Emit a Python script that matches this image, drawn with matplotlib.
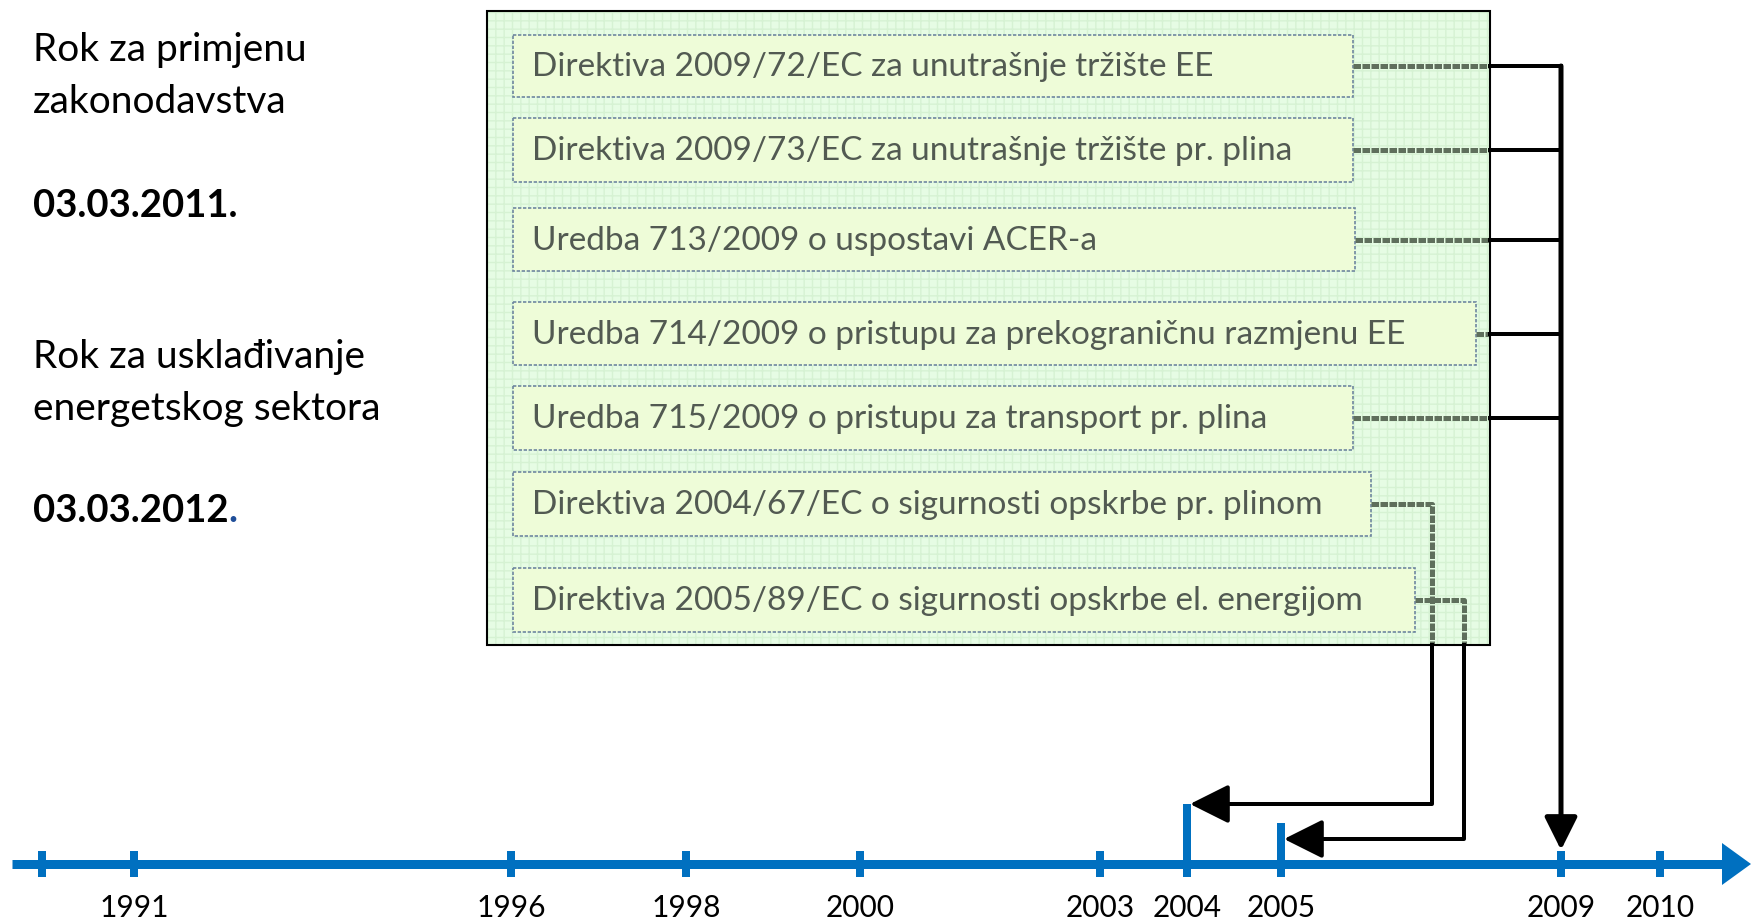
import matplotlib.pyplot as plt
from matplotlib.patches import Rectangle, Polygon

plt.rcParams['font.family'] = ['Lato', 'DejaVu Sans']

# timeline
years = ['', '1991', '1996', '1998', '2000', '2003', '2004', '2005', '2009', '2010']
tick_x = [42, 134, 511, 686, 860, 1100, 1187, 1281, 1561, 1660]
tick_top = [851, 851, 851, 851, 851, 851, 804, 823, 851, 851]

# documents in the green panel
docs = ['Direktiva 2009/72/EC za unutrašnje tržište EE',
        'Direktiva 2009/73/EC za unutrašnje tržište pr. plina',
        'Uredba 713/2009 o uspostavi ACER-a',
        'Uredba 714/2009 o pristupu za prekograničnu razmjenu EE',
        'Uredba 715/2009 o pristupu za transport pr. plina',
        'Direktiva 2004/67/EC o sigurnosti opskrbe pr. plinom',
        'Direktiva 2005/89/EC o sigurnosti opskrbe el. energijom']
doc_top = [35, 118, 208, 302, 386, 472, 568]
doc_bottom = [97, 182, 271, 365, 450, 536, 632]
doc_right = [1353, 1353, 1355, 1476, 1353, 1371, 1415]
# which year each document points to
doc_target = ['2009', '2009', '2009', '2009', '2009', '2004', '2005']

left_lines = [('Rok za primjenu', 'normal', 61), ('zakonodavstva', 'normal', 113),
              ('03.03.2011.', 'bold', 217), ('Rok za usklađivanje', 'normal', 368),
              ('energetskog sektora', 'normal', 420), ('03.03.2012', 'bold', 522)]

W, H = 1751, 924
px = 0.72  # points per pixel at dpi 100
fig = plt.figure(figsize=(W / 100, H / 100), dpi=100)
ax = fig.add_axes([0, 0, 1, 1])
ax.set_xlim(0, W)
ax.set_ylim(H, 0)
ax.axis('off')

blue = '#0070c0'
timeline_y = 864
ax.plot([12, 1725], [timeline_y, timeline_y], color=blue, lw=9 * px, solid_capstyle='butt')
ax.add_patch(Polygon([[1722, timeline_y - 21], [1751, timeline_y], [1722, timeline_y + 21]],
                     closed=True, color=blue, lw=0))
for x, yr, top in zip(tick_x, years, tick_top):
    ax.plot([x, x], [top, 877], color=blue, lw=8 * px, solid_capstyle='butt')
    ax.text(x, 908, yr, ha='center', va='center', fontsize=21.5, color='black')

# left text
for txt, wt, y in left_lines:
    fs = 27.5 if wt == 'bold' else 28
    ax.text(33, y, txt, ha='left', va='baseline', fontsize=fs, fontweight=wt, color='black')
t = ax.text(33, 522, '03.03.2012', ha='left', va='baseline', fontsize=27.5, fontweight='bold', alpha=0)
fig.canvas.draw()
bb = t.get_window_extent().transformed(ax.transData.inverted())
ax.text(bb.x1, 522, '.', ha='left', va='baseline', fontsize=27.5, fontweight='bold', color='#1f4e99')

# green panel with faint grid
panel = (487, 11, 1490, 645)
ax.add_patch(Rectangle((panel[0], panel[1]), panel[2] - panel[0], panel[3] - panel[1],
                       facecolor='#e6fce4', edgecolor='#d6f2d3', hatch='++', lw=0, zorder=1))
ax.add_patch(Rectangle((panel[0], panel[1]), panel[2] - panel[0], panel[3] - panel[1],
                       facecolor='none', edgecolor='black', lw=1.5, zorder=5))

grey = '#5f6f5c'
for i, d in enumerate(docs):
    x0, y0, y1, x1 = 513, doc_top[i], doc_bottom[i], doc_right[i]
    ax.add_patch(Rectangle((x0, y0), x1 - x0, y1 - y0, facecolor='#eefcd8',
                           edgecolor='#6f87a0', lw=1.2, ls=(0, (2, 1)), zorder=2))
    yc = (y0 + y1) / 2
    ax.text(532, yc + 1, d, ha='left', va='center', fontsize=24, color='#525a52', zorder=3)

# connectors
x09 = tick_x[years.index('2009')]
for i in range(5):
    yc = (doc_top[i] + doc_bottom[i]) / 2
    ax.plot([doc_right[i], panel[2]], [yc, yc], color=grey, lw=5 * px, ls=(0, (1.5, 0.3)), zorder=3)
    ax.plot([panel[2], x09], [yc, yc], color='black', lw=4 * px, zorder=3)
y_first = (doc_top[0] + doc_bottom[0]) / 2
ax.annotate('', xy=(x09, 850), xytext=(x09, y_first),
            arrowprops=dict(arrowstyle='-|>,head_length=1.0,head_width=0.5', mutation_scale=20,
                            lw=5 * px, color='black', shrinkA=0, shrinkB=0), zorder=4)

for i, xv, yh in [(5, 1432, 804), (6, 1464, 839)]:
    yc = (doc_top[i] + doc_bottom[i]) / 2
    xt = tick_x[years.index(doc_target[i])] + 3
    ax.plot([doc_right[i], xv, xv], [yc, yc, panel[3]], color=grey, lw=5 * px,
            ls=(0, (1.5, 0.3)), zorder=3)
    ax.plot([xv, xv, xt + 20], [panel[3], yh, yh], color='black', lw=4 * px, zorder=3)
    ax.annotate('', xy=(xt, yh), xytext=(xt + 30, yh),
                arrowprops=dict(arrowstyle='-|>,head_length=1.0,head_width=0.5', mutation_scale=24,
                                lw=4 * px, color='black', shrinkA=0, shrinkB=0), zorder=4)

fig.savefig('out.png', dpi=100, facecolor='white')
plt.close()
